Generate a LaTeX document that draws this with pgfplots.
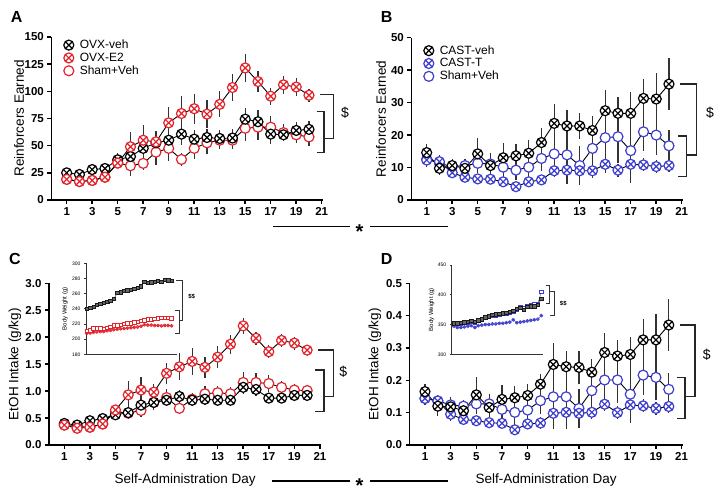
\documentclass[border=0pt]{standalone}
\usepackage{pgfplots}
\pgfplotsset{compat=1.18}
\usepackage{pgfplotstable}
\usepackage{fontspec}
\setmainfont{Liberation Sans}
\usetikzlibrary{plotmarks}
\definecolor{myred}{HTML}{E3232B}
\definecolor{myblue}{HTML}{3D3DCF}
\definecolor{ebc}{HTML}{333333}

\pgfplotstableread{
x a ae b be c ce
1 25 3 19 3 19 3
2 23.5 3 17 3 17 3
3 28 5 18 3 18 3
4 29 5 21 3 21 3
5 37 6 34 5 34 5
6 40 6 49 14 31.5 9
7 47.5 10 55 14 33.7 6
8 52.6 10 53.5 10 44 12
9 55 10 71 15 47.5 12
10 60.6 10 79.6 16 37.3 6
11 56 8 84 14 47.5 10
12 57.5 8 79 13 52.6 10
13 56.6 8 88 12 55 8
14 57 8 103.5 12 55 8
15 74.4 10 121.5 13 66 12
16 72 11 109 10 67 12
17 60.6 9 95.5 8 67 10
18 60 6 106 8 62 8
19 64 8 104 8 60 8
20 65 8 96.4 6 58 8
}\tabA
\pgfplotstableread{
x a ae b be c ce
1 14.6 2.5 12.3 2 12.6 2
2 9.75 2 11.8 2 11.3 2
3 10.6 2 8.4 1.5 10.3 2
4 9.75 2 7 1.5 10.6 2
5 14.2 5 6.5 1 11.3 3
6 10.6 4 6.4 1 11.1 3
7 13 4.5 5.6 1 10.1 3
8 13.6 3.5 4.1 1 9.2 3
9 14.4 4 5.6 1 10.1 3
10 17.7 4.5 6.2 1.5 12.8 4
11 23.6 6 9 2 14.2 5
12 22.8 5 9.2 2 13.9 9
13 22.8 4 9 2 10.6 6
14 21.4 4.5 9 2 15.9 9
15 27.5 6.5 11 2 19.2 11
16 26.7 5 9.2 2 19.5 8
17 26.7 6.5 11 2 15.2 10
18 31.3 6 10.8 2 21 6
19 31.1 8 10.3 2 20 6
20 35.7 8 10.6 2 16.7 5
}\tabB
\pgfplotstableread{
x a ae b be c ce
1 0.40 0.04 0.37 0.04 0.37 0.04
2 0.37 0.04 0.31 0.04 0.34 0.04
3 0.45 0.05 0.33 0.05 0.33 0.04
4 0.49 0.05 0.39 0.06 0.39 0.05
5 0.56 0.08 0.65 0.1 0.62 0.1
6 0.60 0.1 0.93 0.25 0.59 0.1
7 0.74 0.12 1.02 0.25 0.64 0.12
8 0.79 0.1 0.98 0.15 0.79 0.15
9 0.83 0.1 1.33 0.2 0.88 0.15
10 0.90 0.12 1.45 0.25 0.68 0.08
11 0.83 0.1 1.55 0.25 0.85 0.12
12 0.85 0.1 1.44 0.2 0.95 0.15
13 0.83 0.1 1.63 0.2 0.97 0.12
14 0.83 0.1 1.87 0.18 0.95 0.12
15 1.07 0.12 2.21 0.15 1.16 0.2
16 1.03 0.12 1.98 0.12 1.16 0.18
17 0.87 0.1 1.73 0.12 1.14 0.15
18 0.87 0.08 1.94 0.12 1.07 0.12
19 0.92 0.1 1.89 0.12 1.02 0.12
20 0.92 0.1 1.76 0.1 1.01 0.1
}\tabC
\pgfplotstableread{
x a ae b be c ce
1 0.165 0.025 0.144 0.02 0.144 0.02
2 0.12 0.03 0.136 0.02 0.136 0.02
3 0.118 0.03 0.095 0.02 0.124 0.02
4 0.106 0.02 0.079 0.015 0.12 0.02
5 0.155 0.055 0.075 0.015 0.127 0.03
6 0.116 0.03 0.069 0.015 0.127 0.03
7 0.141 0.045 0.067 0.015 0.110 0.05
8 0.146 0.035 0.047 0.015 0.101 0.04
9 0.153 0.035 0.065 0.015 0.108 0.04
10 0.188 0.03 0.068 0.02 0.137 0.04
11 0.249 0.065 0.098 0.02 0.149 0.1
12 0.242 0.05 0.101 0.02 0.149 0.1
13 0.24 0.05 0.098 0.02 0.113 0.06
14 0.225 0.04 0.101 0.02 0.168 0.08
15 0.286 0.06 0.126 0.02 0.201 0.09
16 0.275 0.05 0.100 0.02 0.201 0.07
17 0.28 0.055 0.124 0.02 0.157 0.09
18 0.325 0.065 0.121 0.02 0.216 0.06
19 0.325 0.08 0.113 0.02 0.209 0.07
20 0.371 0.08 0.119 0.02 0.172 0.05
}\tabD
\pgfplotstableread{
x k r q
1 240 211 207.5
2 241.5 212 208
3 243 214 209
4 245 214.5 209.5
5 246.5 214 210
6 248 213.5 210
7 249.5 215 211
8 251 216 211.5
9 253 218 212.5
10 261 218.5 213
11 262 219 213.5
12 263.5 220 214
13 264.5 220.5 214.5
14 265.5 221 215
15 266.5 222 215.5
16 268 223 216
17 269.5 224 217
18 276 225 219
19 274.5 226 218.5
20 275 226.5 218.5
21 276 227 218
22 277 227.5 218
23 276 228 217.5
24 278 228 218
25 277.5 228 218
26 277 227.5 217.5
}\tabCi
\pgfplotstableread{
x k r q
1 352 352 347
2 352 351 345
3 353 352 345
4 354 353 346
5 355 354 347
6 356 355 348
7 355 354 345
8 357 356 348
9 359 358 349
10 362 361 350
11 364 363 350
12 366 365 351
13 367 366 351
14 368 367 352
15 369 368 352
16 370 369 353
17 371 370 354
18 373 372 358
19 376 375 353
20 378 380 354
21 375 377 355
22 380 381 356
23 381 383 357
24 381 384 358
25 383 385 359
26 393 405 365
}\tabDi

\pgfplotsset{
  panel/.style={
    scale only axis, anchor=south west,
    axis x line*=bottom, axis y line*=left,
    axis line style={line width=1.5pt},
    every tick/.style={line width=1.5pt, black},
    tick align=outside, major tick length=4pt,
    xmin=-0.2, xmax=21.1, xtick={1,3,...,21}, ymin=0,
    clip=false,
    tick label style={font=\bfseries\fontsize{11.5}{12}\selectfont},
    /pgf/number format/assume math mode=true,
    label style={font=\fontsize{13.5}{14}\selectfont},
    ylabel style={anchor=center},
    xlabel style={at={(axis description cs:0.5,0)}, anchor=center, yshift=-35pt},
    legend style={draw=none, fill=none, anchor=north west, font=\fontsize{12}{12}\selectfont, row sep=-1.2pt, inner sep=0pt,
      /tikz/every odd column/.append style={column sep=4pt}},
    legend cell align=left,
  },
  inset/.style={
    scale only axis, anchor=south west,
    axis x line*=bottom, axis y line*=left,
    axis line style={line width=0.7pt, black!80},
    every tick/.style={line width=0.6pt, black!80},
    tick align=outside, major tick length=2pt,
    xtick=\empty, clip=false,
    tick label style={font=\fontsize{5}{5}\selectfont},
    /pgf/number format/assume math mode=true,
    ylabel style={font=\fontsize{6}{6}\selectfont, anchor=center, at={(axis description cs:-0.23,0.5)}},
  },
  ebar/.style={forget plot, only marks, mark=none, error bars/.cd, y dir=both, y explicit, error mark=none, error bar style={line width=1.2pt, ebc}},
  ser/.style={forget plot, black, line width=0.9pt, mark size=5pt, mark options={solid, line width=1.2pt, fill=white, draw=#1}},
  crossed/.style={ser=#1, mark=otimes*},
  open/.style={ser=#1, mark=*},
  lcrossed/.style={only marks, mark=otimes*, mark size=5pt, mark options={solid, line width=1.2pt, fill=white, draw=#1}},
  lopen/.style={only marks, mark=*, mark size=5pt, mark options={solid, line width=1.2pt, fill=white, draw=#1}},
}

\begin{document}
\begin{tikzpicture}[x=1pt,y=1pt]
\useasboundingbox (0,0) rectangle (721,500);

% ---------------- A ----------------
\begin{axis}[panel, at={(51.4pt,300pt)}, width=271.6pt, height=163pt,
  ymax=150, ytick={0,25,...,150},
  ylabel={Reinforcers Earned}, ylabel style={at={(axis description cs:-0.119,0.5)}},
  legend style={at={(axis description cs:0.045,0.995)}}]
\addlegendimage{lcrossed=black}\addlegendentry{OVX-veh}
\addlegendimage{lcrossed=myred}\addlegendentry{OVX-E2}
\addlegendimage{lopen=myred}\addlegendentry{Sham+Veh}
\addplot[ebar] table[x=x,y=a,y error=ae]{\tabA};
\addplot[ebar] table[x=x,y=c,y error=ce]{\tabA};
\addplot[ebar] table[x=x,y=b,y error=be]{\tabA};
\addplot[open=myred] table[x=x,y=c]{\tabA};
\addplot[crossed=black] table[x=x,y=a]{\tabA};
\addplot[crossed=myred] table[x=x,y=b]{\tabA};
\end{axis}

% ---------------- B ----------------
\begin{axis}[panel, at={(411.4pt,300pt)}, width=271.6pt, height=162.3pt,
  ymax=50, ytick={0,10,...,50},
  ylabel={Reinforcers Earned}, ylabel style={at={(axis description cs:-0.112,0.5)}},
  legend style={at={(axis description cs:0.045,0.965)}}]
\addlegendimage{lcrossed=black}\addlegendentry{CAST-veh}
\addlegendimage{lcrossed=myblue}\addlegendentry{CAST-T}
\addlegendimage{lopen=myblue}\addlegendentry{Sham+Veh}
\addplot[ebar] table[x=x,y=a,y error=ae]{\tabB};
\addplot[ebar] table[x=x,y=c,y error=ce]{\tabB};
\addplot[ebar] table[x=x,y=b,y error=be]{\tabB};
\addplot[open=myblue] table[x=x,y=c]{\tabB};
\addplot[crossed=myblue] table[x=x,y=b]{\tabB};
\addplot[crossed=black] table[x=x,y=a]{\tabB};
\end{axis}

% ---------------- C ----------------
\begin{axis}[panel, at={(49pt,55pt)}, width=272.2pt, height=161.7pt,
  ymax=3, ytick={0,0.5,...,3.0},
  yticklabel style={/pgf/number format/.cd, fixed, fixed zerofill, precision=1},
  ylabel={EtOH Intake (g/kg)}, ylabel style={at={(axis description cs:-0.125,0.5)}},
  xlabel={Self-Administration Day}]
\addplot[ebar] table[x=x,y=a,y error=ae]{\tabC};
\addplot[ebar] table[x=x,y=c,y error=ce]{\tabC};
\addplot[ebar] table[x=x,y=b,y error=be]{\tabC};
\addplot[open=myred] table[x=x,y=c]{\tabC};
\addplot[crossed=black] table[x=x,y=a]{\tabC};
\addplot[crossed=myred] table[x=x,y=b]{\tabC};
\end{axis}

% ---------------- D ----------------
\begin{axis}[panel, at={(409.6pt,55pt)}, width=273.3pt, height=161.7pt,
  ymax=0.5, ytick={0,0.1,...,0.5},
  yticklabel style={/pgf/number format/.cd, fixed, fixed zerofill, precision=1},
  ylabel={EtOH Intake (g/kg)}, ylabel style={at={(axis description cs:-0.127,0.5)}},
  xlabel={Self-Administration Day}]
\addplot[ebar] table[x=x,y=a,y error=ae]{\tabD};
\addplot[ebar] table[x=x,y=c,y error=ce]{\tabD};
\addplot[ebar] table[x=x,y=b,y error=be]{\tabD};
\addplot[open=myblue] table[x=x,y=c]{\tabD};
\addplot[crossed=myblue] table[x=x,y=b]{\tabD};
\addplot[crossed=black] table[x=x,y=a]{\tabD};
\end{axis}

% ---------------- inset C ----------------
\begin{axis}[inset, at={(86pt,145.7pt)}, width=91pt, height=91pt,
  xmin=0.8, xmax=27.6, ymin=180, ymax=300, ytick={180,200,...,300},
  ylabel={Body Weight (g)}]
\addplot[forget plot, myred, line width=0.4pt, mark=otimes, mark size=1.6pt, mark options={solid, line width=0.5pt}] table[x=x,y=q]{\tabCi};
\addplot[forget plot, myred, line width=0.4pt, mark=square*, mark size=1.8pt, mark options={solid, line width=0.6pt, fill=white, draw=myred}] table[x=x,y=r]{\tabCi};
\addplot[forget plot, black, line width=0.4pt, mark=square*, mark size=1.7pt, mark options={solid, line width=0.5pt, fill=black!60, draw=black!90}] table[x=x,y=k]{\tabCi};
\end{axis}

% ---------------- inset D ----------------
\begin{axis}[inset, at={(451.7pt,145.7pt)}, width=91.7pt, height=89.3pt,
  xmin=0.4, xmax=26.6, ymin=300, ymax=450, ytick={300,350,400,450},
  ylabel={Body Weight (g)}, ylabel style={at={(axis description cs:-0.22,0.5)}}]
\addplot[forget plot, myblue, line width=0.4pt, mark=otimes, mark size=1.6pt, mark options={solid, line width=0.5pt}] table[x=x,y=q]{\tabDi};
\addplot[forget plot, myblue, line width=0.4pt, mark=square*, mark size=1.8pt, mark options={solid, line width=0.6pt, fill=white, draw=myblue}] table[x=x,y=r]{\tabDi};
\addplot[forget plot, black, line width=0.4pt, mark=square*, mark size=1.7pt, mark options={solid, line width=0.5pt, fill=black!60, draw=black!90}] table[x=x,y=k]{\tabDi};
\end{axis}

% ---------------- annotations (pixel coordinates, y down) ----------------
\begin{scope}[y=-1pt, shift={(0pt,500pt)}]
\tikzset{lbl/.style={font=\bfseries\fontsize{16}{16}\selectfont}, dol/.style={font=\fontsize{14}{14}\selectfont}, br/.style={line width=1.1pt, black!85}}
\node[lbl] at (16.7,16.7) {A};
\node[lbl] at (386.7,16.7) {B};
\node[lbl] at (15,259.3) {C};
\node[lbl] at (386.7,259.3) {D};
% A brackets
\draw[br] (320,94.3) -- (333.3,94.3) -- (333.3,138.3) -- (324,138.3);
\draw[br] (316.7,111.7) -- (324,111.7) -- (324,152.7) -- (316.7,152.7);
\node[dol] at (345,113.3) {\$};
% B brackets
\draw[br] (680,84) -- (696.7,84) -- (696.7,155) -- (686.7,155);
\draw[br] (678.3,136) -- (686.7,136) -- (686.7,176.7) -- (678.3,176.7);
\node[dol] at (710,113.3) {\$};
% C brackets
\draw[br] (318.3,350) -- (333.3,350) -- (333.3,396.7) -- (324,396.7);
\draw[br] (315,370) -- (324,370) -- (324,411.7) -- (315,411.7);
\node[dol] at (343.3,371.7) {\$};
% D brackets
\draw[br] (680,325) -- (695,325) -- (695,396.7) -- (685,396.7);
\draw[br] (676.7,377.3) -- (685,377.3) -- (685,418.3) -- (676.7,418.3);
\node[dol] at (706.7,355) {\$};
% inset C brackets
\draw[line width=0.6pt, black!80] (176,280.7) -- (182.7,280.7) -- (182.7,320.7) -- (179,320.7);
\draw[line width=0.6pt, black!80] (175,310.7) -- (179,310.7) -- (179,333.3) -- (175,333.3);
\node[font=\bfseries\fontsize{6}{6}\selectfont] at (191.7,296.7) {\$\$};
% inset D brackets
\draw[line width=0.6pt, black!80] (545.7,285) -- (549.3,285) -- (549.3,303.3) -- (545.7,303.3);
\draw[line width=0.6pt, black!80] (549.3,291.7) -- (554.3,291.7) -- (554.3,315) -- (550,315);
\node[font=\bfseries\fontsize{6}{6}\selectfont] at (563.3,304) {\$\$};
% star lines
\draw[line width=1.3pt] (273.3,226.7) -- (350,226.7);
\draw[line width=1.3pt] (370,226.7) -- (448.3,226.7);
\node[font=\bfseries\fontsize{20}{20}\selectfont] at (359.5,231.3) {*};
\draw[line width=1.3pt] (271.7,481) -- (350,481);
\draw[line width=1.3pt] (370,481) -- (448.3,481);
\node[font=\bfseries\fontsize{20}{20}\selectfont] at (359.5,485.6) {*};
\end{scope}
\end{tikzpicture}
\end{document}
